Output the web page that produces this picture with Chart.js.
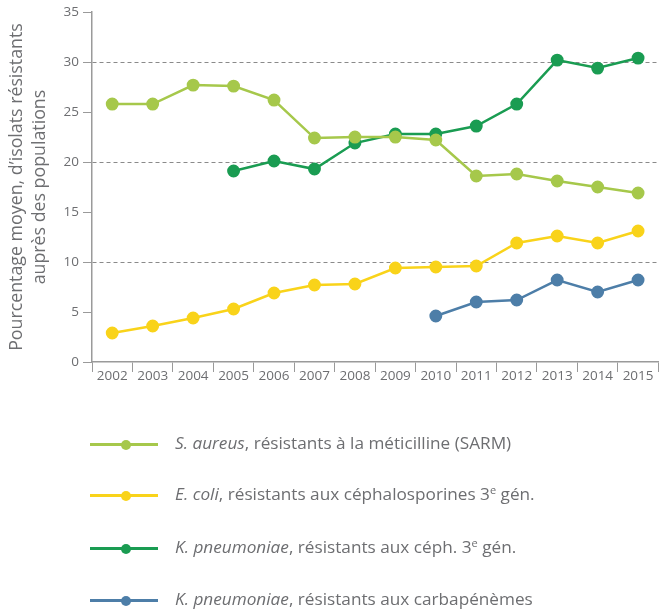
<!DOCTYPE html>
<html>
<head>
<meta charset="utf-8">
<script src="https://cdn.jsdelivr.net/npm/chart.js@4"></script>
<style>
  html, body { margin: 0; padding: 0; background: #fff; overflow: hidden; width: 662px; height: 610px; }
  #wrap { position: absolute; left: 0; top: 0; width: 666px; height: 392px; }
  #legend { position: absolute; left: 0; top: 0; width: 662px; height: 610px; pointer-events: none;
            font-family: "Open Sans", "DejaVu Sans", sans-serif; font-size: 17.2px; color: #6d6e71; }
  .row { position: absolute; left: 90px; height: 20px; }
  .line { position: absolute; left: 0; top: 9px; width: 68px; height: 3px; }
  .dot { position: absolute; left: 31px; top: 5.5px; width: 10px; height: 10px; border-radius: 50%; }
  .txt { position: absolute; left: 85px; top: -2px; white-space: nowrap; line-height: 22px; }
  sup { font-size: 11px; vertical-align: 6px; line-height: 0; }
</style>
</head>
<body>
<div id="wrap"><canvas id="c" width="666" height="392"></canvas></div>
<div id="legend"></div>
<script>
const years = ["2002","2003","2004","2005","2006","2007","2008","2009","2010","2011","2012","2013","2014","2015"];
const sarm  = [25.8, 25.8, 27.7, 27.6, 26.2, 22.4, 22.5, 22.5, 22.2, 18.6, 18.8, 18.1, 17.5, 16.9];
const ecoli = [2.9, 3.6, 4.4, 5.3, 6.9, 7.7, 7.8, 9.4, 9.5, 9.6, 11.9, 12.6, 11.9, 13.1];
const kpCeph = [null, null, null, 19.1, 20.1, 19.3, 21.9, 22.8, 22.8, 23.6, 25.8, 30.2, 29.4, 30.4];
const kpCarba = [null, null, null, null, null, null, null, null, 4.6, 6.0, 6.2, 8.2, 7.0, 8.2];
const yTicks = [0, 5, 10, 15, 20, 25, 30, 35];
const dashedAt = [10, 20, 30];
const yTitle = ["Pourcentage moyen, d\u2019isolats résistants", "auprès des populations"];
const legendItems = [
  '<i>S. aureus</i>, résistants à la méticilline (SARM)',
  '<i>E. coli</i>, résistants aux céphalosporines 3<sup>e</sup> gén.',
  '<i>K. pneumoniae</i>, résistants aux céph. 3<sup>e</sup> gén.',
  '<i>K. pneumoniae</i>, résistants aux carbapénèmes'
];

const colors = ["#a6c84b", "#f9d31a", "#1a9c52", "#4d7ea8"];
const gray = "#6d6e71";
const seriesData = [sarm, ecoli, kpCeph, kpCarba];

const datasets = seriesData.map((d, i) => ({
  label: legendItems[i].replace(/<[^>]+>/g, ''),
  data: d,
  borderColor: colors[i],
  backgroundColor: colors[i],
  pointBackgroundColor: colors[i],
  pointBorderColor: colors[i],
  borderWidth: 2.5,
  pointRadius: 5.2,
  pointHoverRadius: 5.2,
  spanGaps: false,
  tension: 0
}));

new Chart(document.getElementById('c'), {
  type: 'line',
  data: { labels: years, datasets: datasets },
  options: {
    responsive: false,
    animation: false,
    devicePixelRatio: 1,
    layout: { padding: { top: 12, right: 0, left: 0, bottom: 0 } },
    plugins: { legend: { display: false }, tooltip: { enabled: false } },
    scales: {
      x: {
        type: 'category',
        offset: true,
        grid: { offset: true, drawOnChartArea: false, drawTicks: true, tickLength: 10, color: '#9a9a9a', tickColor: '#9a9a9a', lineWidth: 1 },
        border: { display: true, color: '#9a9a9a', width: 1.5 },
        ticks: { color: gray, font: { family: '"Open Sans", sans-serif', size: 13.5 }, padding: -4, maxRotation: 0, autoSkip: false },
        afterFit: s => { s.height = 30; }
      },
      y: {
        min: 0, max: 35,
        afterBuildTicks: s => { s.ticks = yTicks.map(v => ({ value: v })); },
        grid: {
          drawOnChartArea: true,
          color: ctx => (ctx.tick && dashedAt.includes(ctx.tick.value)) ? '#8a8a8a' : 'rgba(0,0,0,0)',
          tickColor: '#9a9a9a',
          tickLength: 9,
          tickBorderDash: [],
          lineWidth: 1
        },
        border: { display: true, color: '#9a9a9a', width: 1.5, dash: [4, 3] },
        ticks: { color: gray, font: { family: '"Open Sans", sans-serif', size: 13.5 }, padding: 4 },
        title: {
          display: true,
          text: yTitle,
          color: gray,
          font: { family: '"Open Sans", sans-serif', size: 17.8, lineHeight: 1.3 },
          padding: { top: 5, bottom: 0 }
        },
        afterFit: s => { s.width = 92; }
      }
    }
  }
});

const lg = document.getElementById('legend');
const rowTops = [434, 485, 538, 590];
legendItems.forEach((html, i) => {
  const r = document.createElement('div');
  r.className = 'row';
  r.style.top = rowTops[i] + 'px';
  r.innerHTML = '<div class="line" style="background:' + colors[i] + '"></div>' +
                '<div class="dot" style="background:' + colors[i] + '"></div>' +
                '<div class="txt">' + html + '</div>';
  lg.appendChild(r);
});
</script>
</body>
</html>
